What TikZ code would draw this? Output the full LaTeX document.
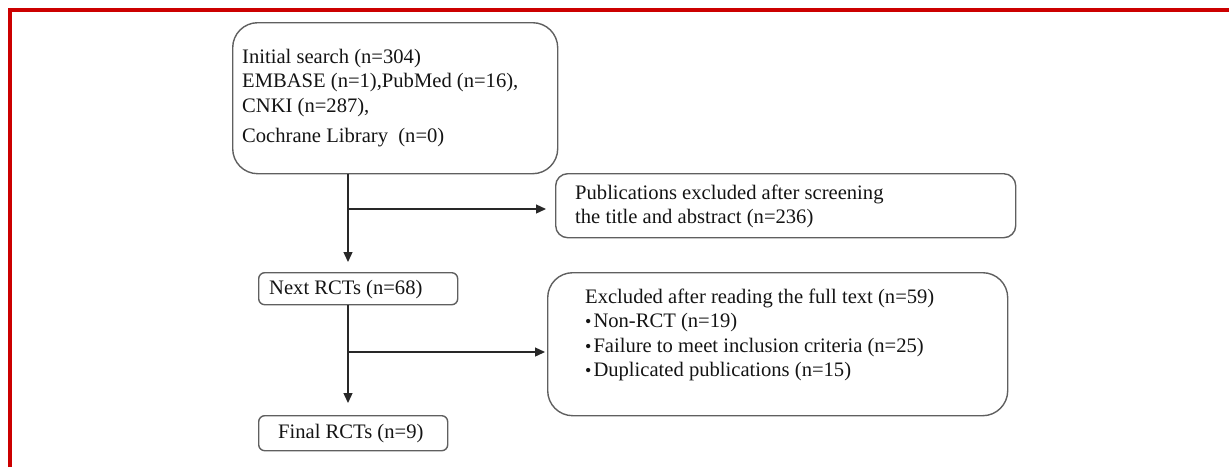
\documentclass[tikz,border=0pt]{standalone}
\usepackage{fontspec}
\setmainfont{Liberation Serif}
\usetikzlibrary{arrows.meta}
\definecolor{borderred}{RGB}{204,0,0}
\definecolor{boxgray}{RGB}{95,95,95}
\definecolor{linegray}{RGB}{40,40,40}
\definecolor{txtcol}{RGB}{20,20,20}
\begin{document}
\begin{tikzpicture}[x=1pt,y=-1pt,
  box/.style={draw=boxgray, line width=1.4pt, inner sep=0pt, anchor=north west},
  txt/.style={anchor=base west, inner sep=0pt, font=\fontsize{20.6}{24.5}\selectfont, text=txtcol},
  mtxt/.style={anchor=north west, inner sep=0pt, font=\fontsize{20.6}{24.5}\selectfont, text=txtcol, align=left},
  arr/.style={draw=linegray, line width=1.3pt, -{Triangle[length=10pt,width=9pt]}},
  frame/.style={draw=borderred, line width=4pt, line join=miter}]
\useasboundingbox (0,0) rectangle (1229,467);
\draw[frame] (9.5,467) -- (9.5,9.5) -- (1229,9.5);

% boxes
\node[box, rounded corners=25pt, minimum width=325pt, minimum height=151pt] (search) at (232,22) {};
\node[box, rounded corners=12pt, minimum width=460pt, minimum height=64pt] (screen) at (555,173) {};
\node[box, rounded corners=6pt, minimum width=199pt, minimum height=32pt] (next) at (258,272) {};
\node[box, rounded corners=25pt, minimum width=460pt, minimum height=143pt] (fulltext) at (547,272) {};
\node[box, rounded corners=6pt, minimum width=189pt, minimum height=35pt] (final) at (258,415) {};

% texts
\node[mtxt] (searchtxt) at ([shift={(10,23.85)}]search.north west)
  {\strut Initial search (n=304)\\EMBASE (n=1),PubMed (n=16),\\CNKI (n=287),\\[5.5pt]Cochrane Library\ \ (n=0)};
\node[mtxt] (screentxt) at ([shift={(20,8.85)}]screen.north west)
  {\strut Publications excluded after screening\\the title and abstract (n=236)};
\node[txt] (nexttxt) at ([shift={(11,22)}]next.north west) {Next RCTs (n=68)};
\node[mtxt] (fulltexttxt) at ([shift={(38,13.85)}]fulltext.north west)
  {\strut Excluded after reading the full text (n=59)\\
   {\fontsize{18}{18}\selectfont •}\kern2pt Non-RCT (n=19)\\
   {\fontsize{18}{18}\selectfont •}\kern2pt Failure to meet inclusion criteria (n=25)\\
   {\fontsize{18}{18}\selectfont •}\kern2pt Duplicated publications (n=15)};
\node[txt] (finaltxt) at ([shift={(20,23)}]final.north west) {Final RCTs (n=9)};

% connectors
\coordinate (t1) at (348,209);
\coordinate (t2) at (348,352);
\draw[arr, shorten >=10pt] (search.south -| t1) -- (next.north -| t1);
\draw[arr, shorten >=9pt] (t1) -- (screen.west |- t1);
\draw[arr, shorten >=12pt] (next.south -| t2) -- (final.north -| t2);
\draw[arr, shorten >=2pt] (t2) -- (fulltext.west |- t2);
\end{tikzpicture}
\end{document}
